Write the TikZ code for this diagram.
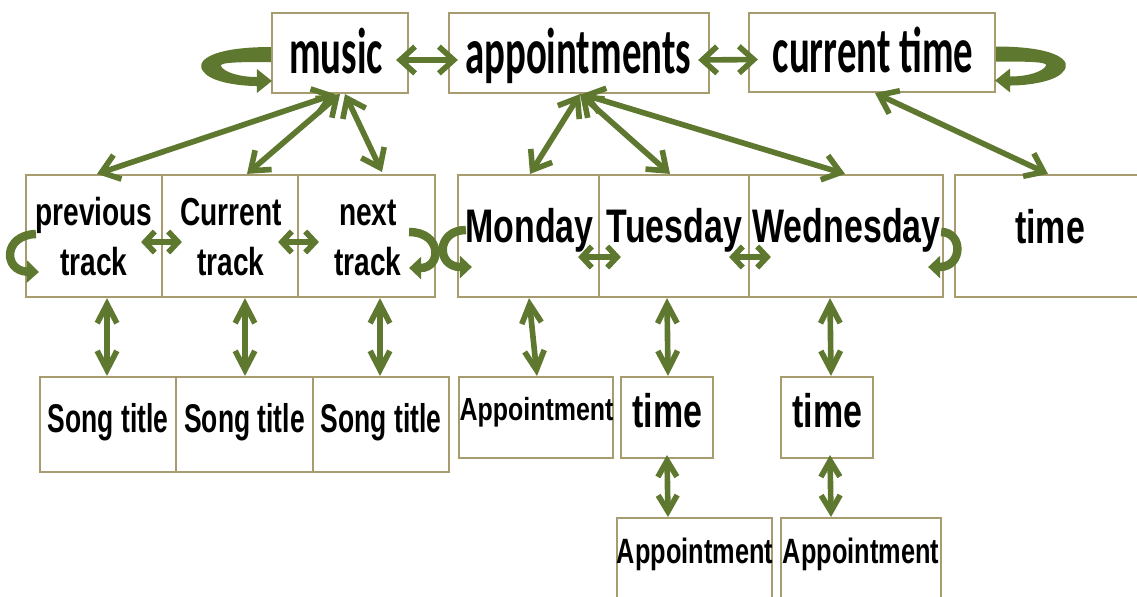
\documentclass[tikz,border=0pt]{standalone}
\usepackage{fontspec}
\usetikzlibrary{arrows.meta}
\newfontfamily\hdfont[FakeStretch=0.6]{Carlito}
\newfontfamily\nfA[FakeStretch=0.66]{Liberation Sans}
\newfontfamily\nfB[FakeStretch=0.72]{Liberation Sans}
\newfontfamily\nfC[FakeStretch=0.78]{Liberation Sans}
\definecolor{boxc}{RGB}{166,156,112}
\definecolor{arrc}{RGB}{95,120,48}
\tikzset{
  box/.style 2 args={draw=boxc, line width=0.6pt, fill=white, inner sep=0pt,
    minimum width=#1, minimum height=#2},
  lbl/.style={anchor=base, inner sep=0pt, text=black},
  hd/.style={lbl, font=\hdfont\bfseries\fontsize{18.4pt}{20pt}\selectfont},
  trk/.style={lbl, font=\nfB\bfseries\fontsize{11.1pt}{13pt}\selectfont},
  day/.style={lbl, font=\nfB\bfseries\fontsize{13.4pt}{15pt}\selectfont},
  song/.style={lbl, font=\nfA\bfseries\fontsize{11.4pt}{13pt}\selectfont},
  apA/.style={lbl, font=\nfC\bfseries\fontsize{9.1pt}{11pt}\selectfont},
  apB/.style={lbl, font=\nfB\bfseries\fontsize{10pt}{12pt}\selectfont},
  link/.style 2 args={draw=arrc, line width=1.6pt,
    {Straight Barb[length=#1,width=#2]}-{Straight Barb[length=#1,width=#2]}},
  linkH/.style={link={4.2pt}{7.6pt}},
  linkS/.style={link={2.8pt}{6pt}},
  linkD/.style={link={4.8pt}{7.2pt}},
  linkV/.style={link={5.4pt}{5.6pt}},
  linkVS/.style={link={4.6pt}{5.4pt}},
  selfloop/.style={draw=arrc, line width=2.4pt, -{Triangle[length=3.4pt,width=6.2pt]}},
  ring/.style={fill=arrc, draw=none}
}
\begin{document}
\begin{tikzpicture}[x=0.01cm, y=-0.01cm]
\useasboundingbox (0,0) rectangle (1137,596);

% top row
\node[box={1.36cm}{0.80cm}] (music)   at (340,53)   {};
\node[box={2.60cm}{0.80cm}] (appts)   at (579,53)   {};
\node[box={2.46cm}{0.79cm}] (curtime) at (872,52.5) {};
\node[hd] at (336,73) {music};
\node[hd] at (578,73) {appointments};
\node[hd] at (873,72) {current time};

% track row
\node[box={1.36cm}{1.22cm}] (prev) at (94,236)    {};
\node[box={1.36cm}{1.22cm}] (cur)  at (230,236)   {};
\node[box={1.37cm}{1.22cm}] (next) at (366.5,236) {};
\node[trk] at (94,225)  {previous};
\node[trk] at (94,275)  {track};
\node[trk] at (231,225) {Current};
\node[trk] at (231,275) {track};
\node[trk] at (368,225) {next};
\node[trk] at (368,275) {track};

% day row
\node[box={1.41cm}{1.22cm}] (mon)   at (528.5,236) {};
\node[box={1.50cm}{1.22cm}] (tue)   at (674,236)   {};
\node[box={1.94cm}{1.22cm}] (wed)   at (846,236)   {};
\node[box={1.90cm}{1.22cm}] (timeR) at (1050,236)  {};
\node[day] at (529.5,242) {Monday};
\node[day] at (674.5,242) {Tuesday};
\node[day] at (846.5,242) {Wednesday};
\node[day] at (1050,243)  {time};

% song titles
\node[box={1.36cm}{0.95cm}] (song1) at (108,424.5) {};
\node[box={1.37cm}{0.95cm}] (song2) at (244.5,424.5) {};
\node[box={1.36cm}{0.95cm}] (song3) at (381,424.5) {};
\node[song] at (108,432)   {Song title};
\node[song] at (244.5,432) {Song title};
\node[song] at (381,432)   {Song title};

% appointment details
\node[box={1.54cm}{0.81cm}] (appt1) at (536,417.5) {};
\node[box={0.92cm}{0.81cm}] (timeA) at (667,417.5) {};
\node[box={0.92cm}{0.81cm}] (timeB) at (827,417.5) {};
\node[apA] at (536.5,420) {Appointment};
\node[day] at (667.5,427) {time};
\node[day] at (827.5,427) {time};

\node[box={1.55cm}{0.92cm}] (appt2) at (694.5,564) {};
\node[box={1.60cm}{0.92cm}] (appt3) at (861,564)   {};
\node[apB] at (695,563) {Appointment};
\node[apB] at (861,563) {Appointment};

% self loops on the top row
\begin{scope}[shift={(music.west)}]
  \fill[ring] (0,-6) .. controls (-62,-6) and (-77,9) .. (-67,19)
    .. controls (-60,29) and (-32,33) .. (-14,33) -- (-14,40) -- (1,28)
    -- (-14,16) -- (-14,24) .. controls (-32,24) and (-47,19) .. (-50,13)
    .. controls (-52,9) and (-27,9) .. (0,9) -- cycle;
\end{scope}
\begin{scope}[shift={(curtime.east)}, xscale=-1]
  \fill[ring] (0,-6) .. controls (-62,-6) and (-77,9) .. (-67,19)
    .. controls (-60,29) and (-32,33) .. (-14,33) -- (-14,40) -- (1,28)
    -- (-14,16) -- (-14,24) .. controls (-32,24) and (-47,19) .. (-50,13)
    .. controls (-52,9) and (-27,9) .. (0,9) -- cycle;
\end{scope}

% self loops on the second row
\draw[selfloop] ([shift={(11,-2)}]prev.west) .. controls ([shift={(-22,-1)}]prev.west)
  and ([shift={(-22,35)}]prev.west) .. ([shift={(14,36)}]prev.west);
\draw[selfloop] ([shift={(-27,-4)}]next.east) .. controls ([shift={(6,-4)}]next.east)
  and ([shift={(6,32)}]next.east) .. ([shift={(-27,32)}]next.east);
\draw[selfloop] ([shift={(9,-6)}]mon.west) .. controls ([shift={(-21,-6)}]mon.west)
  and ([shift={(-21,31)}]mon.west) .. ([shift={(15,31)}]mon.west);
\draw[selfloop] ([shift={(-3,-4)}]wed.east) .. controls ([shift={(19,-4)}]wed.east)
  and ([shift={(19,31)}]wed.east) .. ([shift={(-16,31)}]wed.east);

% links between neighbours
\draw[linkH] ([shift={(-13,7)}]music.east) -- ([shift={(10,7)}]appts.west);
\draw[linkH] ([shift={(-12,7)}]appts.east) -- ([shift={(10,7)}]curtime.west);
\draw[linkS] ([shift={(-22,6)}]prev.east) -- ([shift={(21,6)}]cur.west);
\draw[linkS] ([shift={(-21,6)}]cur.east) -- ([shift={(22,6)}]next.west);
\draw[linkS] ([shift={(-22,21)}]mon.east) -- ([shift={(23,21)}]tue.west);
\draw[linkS] ([shift={(-21,21)}]tue.east) -- ([shift={(23,21)}]wed.west);

% links from the top row down
\draw[linkD] ([shift={(-5,0)}]music.south) -- ([shift={(3,0)}]prev.north);
\draw[linkD] (music.south) -- ([shift={(17,0)}]cur.north);
\draw[linkD] ([shift={(5,0)}]music.south) -- ([shift={(15.5,-2)}]next.north);
\draw[linkD] ([shift={(1,0)}]appts.south) -- ([shift={(1.5,0)}]mon.north);
\draw[linkD] ([shift={(1,0)}]appts.south) -- ([shift={(-4,0)}]tue.north);
\draw[linkD] ([shift={(3,0)}]appts.south) -- ([shift={(-1,0)}]wed.north);
\draw[linkD] ([shift={(3,0)}]curtime.south) -- ([shift={(-2,0)}]timeR.north);

% vertical links
\draw[linkV] ([shift={(13,0)}]prev.south) -- ([shift={(-1,0)}]song1.north);
\draw[linkV] ([shift={(15,0)}]cur.south) -- ([shift={(0.5,0)}]song2.north);
\draw[linkV] ([shift={(13.5,0)}]next.south) -- ([shift={(-1,0)}]song3.north);
\draw[linkV] ([shift={(0.5,0)}]mon.south) -- ([shift={(1,0)}]appt1.north);
\draw[linkV] ([shift={(-7,0)}]tue.south) -- ([shift={(1,0)}]timeA.north);
\draw[linkV] ([shift={(-16,0)}]wed.south) -- ([shift={(4,0)}]timeB.north);
\draw[linkVS] ([shift={(0,-4)}]timeA.south) -- ([shift={(-26.5,0)}]appt2.north);
\draw[linkVS] ([shift={(3,-4)}]timeB.south) -- ([shift={(-30,0)}]appt3.north);
\end{tikzpicture}
\end{document}
